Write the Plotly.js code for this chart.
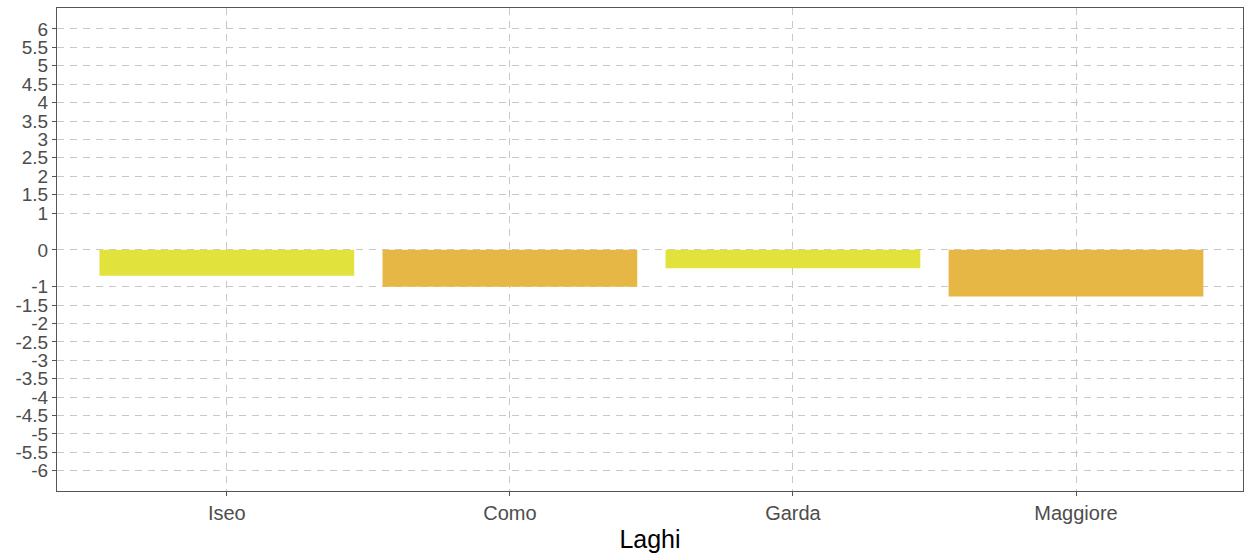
<!DOCTYPE html>
<html>
<head>
<meta charset="utf-8">
<script src="https://cdn.plot.ly/plotly-3.0.1.min.js"></script>
<style>html,body{margin:0;padding:0;background:#fff;}#chart{width:1247px;height:559px;}</style>
</head>
<body>
<div id="chart"></div>
<script>
const categories = ["Iseo", "Como", "Garda", "Maggiore"];
const values = [-0.7, -1.0, -0.5, -1.27];
const barColors = ["#E1E33C", "#E6B744", "#E1E33C", "#E6B744"];
const yTickVals = [6, 5.5, 5, 4.5, 4, 3.5, 3, 2.5, 2, 1.5, 1, 0, -1, -1.5, -2, -2.5, -3, -3.5, -4, -4.5, -5, -5.5, -6];
const yTickText = yTickVals.map(v => String(v));
const xTitle = "Laghi";

const trace = {
  type: "bar",
  x: categories,
  y: values,
  width: 0.9,
  marker: {color: barColors, line: {width: 0}},
  hoverinfo: "x+y"
};

const layout = {
  width: 1247, height: 559,
  margin: {l: 57, r: 4, t: 8, b: 68},
  paper_bgcolor: "#ffffff",
  plot_bgcolor: "#ffffff",
  showlegend: false,
  font: {family: "Liberation Sans, Arial, sans-serif"},
  xaxis: {
    range: [-0.6, 3.59],
    showgrid: true, gridcolor: "#c8c8c8", griddash: "7px,6px", gridwidth: 1,
    showline: true, linecolor: "#555555", linewidth: 1, mirror: true,
    ticks: "outside", ticklen: 4, tickcolor: "#555555",
    tickfont: {size: 20, color: "#4d4d4d"},
    title: {text: xTitle, font: {size: 25, color: "#000000"}, standoff: 7},
    zeroline: false
  },
  yaxis: {
    range: [-6.55, 6.57],
    tickmode: "array", tickvals: yTickVals, ticktext: yTickText,
    showgrid: true, gridcolor: "#c8c8c8", griddash: "7px,6px", gridwidth: 1,
    showline: true, linecolor: "#555555", linewidth: 1, mirror: true,
    ticks: "outside", ticklen: 4, tickcolor: "#555555",
    tickfont: {size: 19, color: "#4d4d4d"},
    zeroline: false
  }
};

Plotly.newPlot("chart", [trace], layout, {displayModeBar: false, staticPlot: true});
</script>
</body>
</html>
